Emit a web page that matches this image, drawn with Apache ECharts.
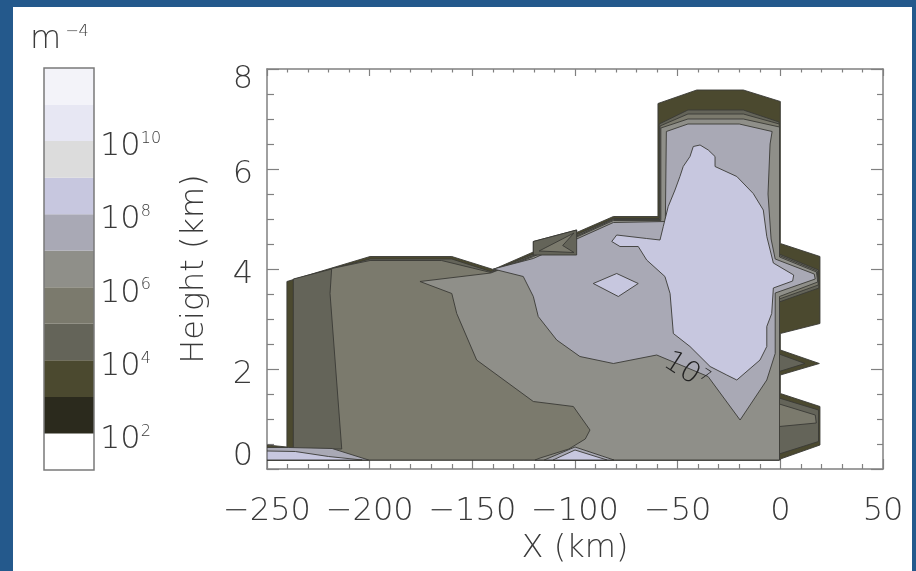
<!DOCTYPE html>
<html><head><meta charset="utf-8">
<script src="https://cdn.jsdelivr.net/npm/echarts@6/dist/echarts.min.js"></script>
<style>
html,body{margin:0;padding:0;background:#fff;}
#wrap{position:relative;width:916px;height:571px;background:#24598c;overflow:hidden;}
#paper{position:absolute;left:13px;top:7px;width:899px;height:564px;background:#fff;}
#chart{position:absolute;left:0;top:0;width:916px;height:571px;}
</style></head>
<body><div id="wrap"><div id="paper"></div><div id="chart"></div></div>
<script>
// ---------- axis ticks ----------
const xTicks = [-250, -200, -150, -100, -50, 0, 50];
const xTickLabels = ['−250', '−200', '−150', '−100', '−50', '0', '50'];
const yTicks = [0, 2, 4, 6, 8];
const yTickLabels = ['0', '2', '4', '6', '8'];
// colour bar: band lower exponents (10^n .. 10^(n+1)) and labelled exponents
const cbBands = [1, 2, 3, 4, 5, 6, 7, 8, 9, 10, 11];
const cbLabelExps = [2, 4, 6, 8, 10];
const bandColors = ['#ffffff', '#2b2a1d', '#4b492f', '#646459', '#7b7a6d', '#8f8f89',
                    '#a9a9b5', '#c7c7df', '#dcdcdc', '#e7e7f3', '#f3f3f9'];

// ---------- contour regions: [X km, Height km], value >= 10^level ----------
const envelope = [[-250,0.18],[-250,0.48],[-240.3,0.44],[-240.3,3.75],[-199.8,4.25],[-160,4.25],[-139.8,3.99],
  [-120.3,4.34],[-120.3,4.55],[-99.2,4.78],[-99.2,4.73],[-81.3,5.05],[-59.6,5.05],[-59.6,7.31],[-40.7,7.58],
  [-18,7.58],[0,7.35],[0,4.51],[19.3,4.25],[19.3,2.91],[0,2.71],[0,2.38],[19,2.11],[0,1.88],[0,1.51],
  [19.3,1.25],[19.3,0.48],[0,0.2],[0,0.18]];
const lvl4Main = [[-250,0.18],[-250,0.42],[-237.2,0.42],[-237.2,3.8],[-199.8,4.2],[-160,4.2],[-141,3.95],
  [-120.3,4.3],[-99.2,4.69],[-81.3,5.01],[-59,5.01],[-59,6.9],[-45,7.18],[-18,7.18],[-0.6,6.94],
  [-0.6,4.3],[18.6,3.98],[18.8,3.62],[-0.6,3.34],[-0.6,2.3],[12,2.11],[-0.6,1.95],[-0.6,1.42],
  [18.6,1.18],[18.6,0.55],[-0.6,0.3],[-0.6,0.18]];
const lvl5Main = [[-250,0.18],[-250,0.40],[-213.6,0.40],[-219.3,3.51],[-218.5,4.01],[-199.8,4.17],[-165,4.17],
  [-150,4.02],[-141,3.93],[-120.3,4.27],[-99.2,4.66],[-81.3,4.99],[-58.6,4.99],[-58.6,6.86],[-45,7.1],
  [-18,7.1],[-0.5,6.9],[-0.5,4.27],[18,3.96],[18.5,3.68],[-0.5,3.4],[-0.5,1.3],[17,1.08],[17.5,0.92],
  [-0.5,0.85],[-0.5,0.18]];
const lvl6Main = [[-119.5,0.18],[-117,0.22],[-103,0.4],[-95,0.6],[-92.7,0.78],[-100.8,1.25],[-120.3,1.35],
  [-147.9,2.18],[-157.6,3.11],[-160,3.51],[-175.5,3.75],[-141,3.92],[-120.3,4.25],[-99.2,4.64],
  [-81.3,4.97],[-58.2,4.97],[-58.2,6.82],[-45,7.0],[-18,7.0],[-0.4,6.84],[-0.4,4.24],[17.6,3.94],
  [18.2,3.74],[-0.4,3.45],[-0.4,0.18]];
const lvl7Main = [[-139.8,4.0],[-125.2,3.85],[-120.3,3.45],[-117.9,3.05],[-108.9,2.58],[-97.6,2.25],
  [-81.3,2.11],[-60.2,2.28],[-35.2,1.85],[-19.6,0.98],[-6.6,1.78],[-2.5,2.31],[-2.5,3.52],[17,3.8],
  [16.5,3.9],[-2.5,4.2],[-4.5,4.6],[-6,5.5],[-5,6.5],[-4,6.75],[-20,6.9],[-45,6.9],[-55.5,6.75],
  [-56,4.95],[-81.3,4.93],[-99.2,4.6],[-120.3,4.21]];
const lvl7StripLeft = [[-250,0.18],[-250,0.43],[-239.4,0.43],[-218.3,0.41],[-200.5,0.18]];
const lvl7BottomMid = [[-115,0.18],[-100,0.44],[-81,0.18]];
const lvl4Notch = [[-120.3,4.28],[-120.3,4.55],[-99.2,4.78],[-99.2,4.28]];
const lvl5Notch = [[-117.5,4.36],[-100.5,4.72],[-106,4.47],[-100.5,4.33]];
const lvl8Blob = [[-42.4,6.45],[-39.1,6.48],[-35.1,6.38],[-31.8,6.25],[-31.8,6.05],[-21.2,5.85],[-13.2,5.51],
  [-8.3,5.18],[-6.6,4.65],[-3.4,4.12],[6.5,3.88],[6,3.76],[-3.4,3.62],[-4.2,3.11],[-6.6,2.85],[-6.6,2.45],
  [-9.9,2.18],[-21.2,1.78],[-26.1,1.88],[-34.2,2.05],[-44,2.45],[-52.1,2.71],[-53.7,3.51],[-56.2,3.85],
  [-65.1,4.18],[-69.2,4.45],[-78.1,4.45],[-82.1,4.55],[-79.7,4.68],[-65.1,4.61],[-58.6,4.58],[-57,4.85],
  [-54.6,5.25],[-51.3,5.58],[-48.9,5.85],[-47.3,6.05],[-44,6.25]];
const lvl8Diamond = [[-91.1,3.71],[-79.7,3.91],[-69.2,3.71],[-78.9,3.45]];
const lvl8StripLeft = [[-250,0.18],[-250,0.36],[-236.2,0.35],[-220,0.25],[-203.7,0.18]];
const lvl8BottomMid = [[-110.7,0.18],[-100,0.38],[-84.4,0.18]];

const layers = [
  {level: 3, pts: envelope}, {level: 4, pts: lvl4Main}, {level: 5, pts: lvl5Main},
  {level: 6, pts: lvl6Main}, {level: 7, pts: lvl7Main}, {level: 7, pts: lvl7StripLeft},
  {level: 7, pts: lvl7BottomMid}, {level: 4, pts: lvl4Notch}, {level: 5, pts: lvl5Notch},
  {level: 8, pts: lvl8Blob}, {level: 8, pts: lvl8Diamond}, {level: 8, pts: lvl8StripLeft},
  {level: 8, pts: lvl8BottomMid}
];
// contour label
const contourLabels = [{x: -46, y: 1.95, base: '10', exp: '7', angle: -33}];

// ---------- chart ----------
const FONT = 'DejaVu Sans';
const FW = 200;
const TXT = '#3a3a3a';
const AX = '#808080';
const chart = echarts.init(document.getElementById('chart'), null, {renderer: 'canvas'});

const yRich = {
  lo: {padding: [0, 0, 24, 0]},
  hi: {padding: [22, 0, 0, 0]},
  mid: {padding: [12, 0, 0, 0]}
};

chart.setOption({
  animation: false,
  backgroundColor: 'transparent',
  title: {
    text: '{m|m}{s|−4}', left: 30, top: 24, padding: 0,
    textStyle: {rich: {
      m: {fontSize: 32, fontFamily: FONT, fontWeight: FW, color: TXT, verticalAlign: 'bottom'},
      s: {fontSize: 16, fontFamily: FONT, fontWeight: FW, color: TXT, verticalAlign: 'top', padding: [0, 0, 0, 4]}
    }}
  },
  grid: [
    {left: 267, top: 69, width: 616, height: 400},
    {left: 44, top: 68, width: 50, height: 402}
  ],
  xAxis: [
    {gridIndex: 0, type: 'value', min: -250, max: 50, interval: 50, position: 'bottom',
     axisLine: {show: true, onZero: false, lineStyle: {color: AX, width: 1.5}},
     axisTick: {show: true, inside: true, length: 10, lineStyle: {color: AX, width: 1.2}},
     minorTick: {show: true, splitNumber: 5, length: 5, lineStyle: {color: AX, width: 1.2}},
     splitLine: {show: false},
     axisLabel: {margin: 27, fontSize: 32, fontFamily: FONT, fontWeight: FW, color: TXT,
       showMinLabel: true, showMaxLabel: true, hideOverlap: false,
       formatter: v => { const i = xTicks.indexOf(v); return i >= 0 ? xTickLabels[i] : ''; }},
     name: 'X (km)', nameLocation: 'middle', nameGap: 62,
     nameTextStyle: {fontSize: 32, fontFamily: FONT, fontWeight: FW, color: TXT}},
    {gridIndex: 0, type: 'value', min: -250, max: 50, interval: 50, position: 'top',
     axisLine: {show: true, onZero: false, lineStyle: {color: AX, width: 1.5}},
     axisTick: {show: true, inside: true, length: 7, lineStyle: {color: AX, width: 1.2}},
     minorTick: {show: true, splitNumber: 5, length: 3.5, lineStyle: {color: AX, width: 1.2}},
     splitLine: {show: false}, axisLabel: {show: false}},
    {gridIndex: 1, type: 'value', min: 0, max: 1, show: false}
  ],
  yAxis: [
    {gridIndex: 0, type: 'value', min: 0, max: 8, interval: 2, position: 'left',
     axisLine: {show: true, onZero: false, lineStyle: {color: AX, width: 1.5}},
     axisTick: {show: true, inside: true, length: 12, lineStyle: {color: AX, width: 1.2}},
     minorTick: {show: true, splitNumber: 4, length: 7, lineStyle: {color: AX, width: 1.2}},
     splitLine: {show: false},
     axisLabel: {margin: 14, fontSize: 32, fontFamily: FONT, fontWeight: FW, color: TXT,
       showMinLabel: true, showMaxLabel: true, hideOverlap: false, rich: yRich,
       formatter: v => { const i = yTicks.indexOf(v); if (i < 0) return '';
         const t = yTickLabels[i]; return v === 0 ? '{lo|' + t + '}' : v === 8 ? '{hi|' + t + '}' : '{mid|' + t + '}'; }},
     name: 'Height (km)', nameLocation: 'middle', nameGap: 56,
     nameTextStyle: {fontSize: 32, fontFamily: FONT, fontWeight: FW, color: TXT}},
    {gridIndex: 0, type: 'value', min: 0, max: 8, interval: 2, position: 'right',
     axisLine: {show: true, onZero: false, lineStyle: {color: AX, width: 1.5}},
     axisTick: {show: true, inside: true, length: 12, lineStyle: {color: AX, width: 1.2}},
     minorTick: {show: true, splitNumber: 4, length: 6, lineStyle: {color: AX, width: 1.2}},
     splitLine: {show: false}, axisLabel: {show: false}},
    {gridIndex: 1, type: 'value', min: 1, max: 12, interval: 1, position: 'right',
     axisLine: {show: false, onZero: false}, axisTick: {show: false}, splitLine: {show: false},
     axisLabel: {margin: 6, color: TXT, showMinLabel: true, showMaxLabel: true, hideOverlap: false,
       padding: [12, 0, 0, 0],
       formatter: v => cbLabelExps.indexOf(v) >= 0 ? '{b|10}{s|' + v + '}' : '',
       rich: {
         b: {fontSize: 32, fontFamily: FONT, fontWeight: FW, color: TXT, verticalAlign: 'bottom'},
         s: {fontSize: 16, fontFamily: FONT, fontWeight: FW, color: TXT, verticalAlign: 'top'}
       }}}
  ],
  series: [
    {
      type: 'custom', xAxisIndex: 0, yAxisIndex: 0, silent: true, clip: true,
      data: layers.map((l, i) => [l.pts[0][0], l.pts[0][1], i]),
      renderItem: (params, api) => {
        const layer = layers[api.value(2)];
        return {type: 'polygon', shape: {points: layer.pts.map(p => api.coord(p))},
          style: {fill: bandColors[layer.level - 1], stroke: '#3a3a36', lineWidth: 0.9}};
      }
    },
    {
      type: 'custom', xAxisIndex: 0, yAxisIndex: 0, silent: true, z: 5,
      data: contourLabels.map((c, i) => [c.x, c.y, i]),
      renderItem: (params, api) => {
        const c = contourLabels[api.value(2)];
        const p = api.coord([c.x, c.y]);
        return {type: 'text', x: p[0], y: p[1], rotation: c.angle * Math.PI / 180,
          style: {text: '{b|' + c.base + '}{s|' + c.exp + '}', align: 'center', verticalAlign: 'middle',
            rich: {
              b: {fontSize: 29, fontFamily: FONT, fontWeight: FW, fill: '#222', verticalAlign: 'bottom'},
              s: {fontSize: 16, fontFamily: FONT, fontWeight: FW, fill: '#222', verticalAlign: 'top'}
            }}};
      }
    },
    {
      type: 'custom', xAxisIndex: 2, yAxisIndex: 2, silent: true,
      data: cbBands.map((b, i) => [0, b, i]),
      renderItem: (params, api) => {
        const b = cbBands[api.value(2)];
        const p0 = api.coord([0, b]);
        const p1 = api.coord([1, b + 1]);
        return {type: 'rect', shape: {x: p0[0], y: p1[1], width: p1[0] - p0[0], height: p0[1] - p1[1]},
          style: {fill: bandColors[b - 1]}};
      }
    },
    {
      type: 'custom', xAxisIndex: 2, yAxisIndex: 2, silent: true, z: 4,
      data: [[0, cbBands[0]]],
      renderItem: (params, api) => {
        const p0 = api.coord([0, cbBands[0]]);
        const p1 = api.coord([1, cbBands[cbBands.length - 1] + 1]);
        return {type: 'rect', shape: {x: p0[0], y: p1[1], width: p1[0] - p0[0], height: p0[1] - p1[1]},
          style: {fill: 'none', stroke: '#7a7a7a', lineWidth: 1.5}};
      }
    }
  ]
});
</script></body></html>
